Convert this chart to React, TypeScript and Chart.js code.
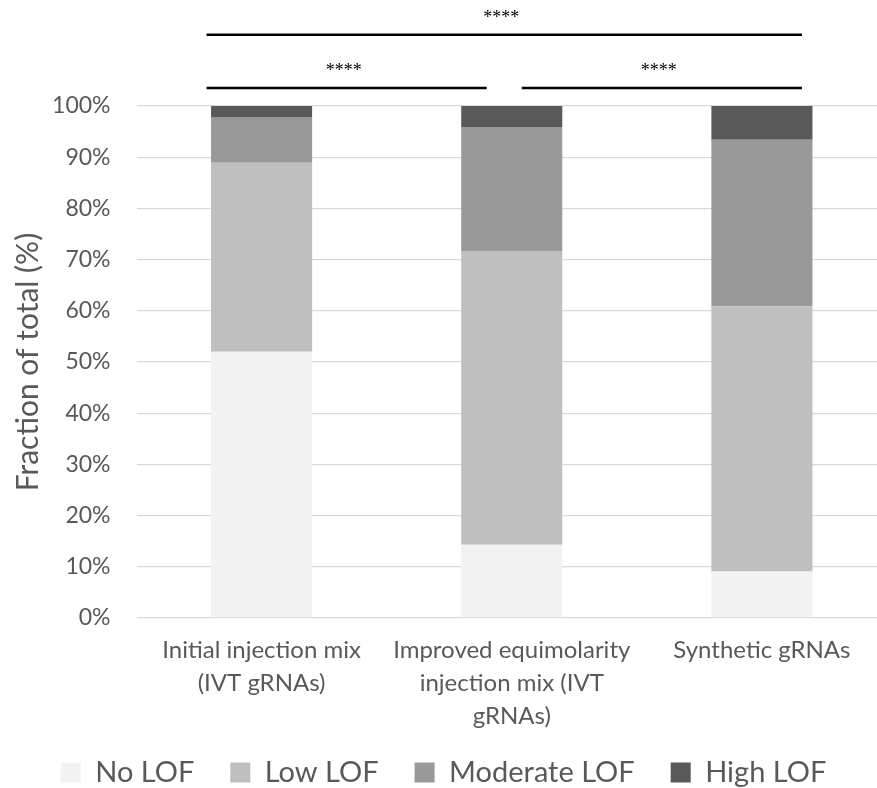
import React, { useEffect, useRef } from "react";
import { Chart, registerables } from "chart.js";

Chart.register(...registerables);

const categories: string[][] = [
  ["Initial injection mix", "(IVT gRNAs)"],
  ["Improved equimolarity", "injection mix (IVT", "gRNAs)"],
  ["Synthetic gRNAs"],
];
const seriesNames = ["No LOF", "Low LOF", "Moderate LOF", "High LOF"];
const noLOF = [52.0, 14.3, 9.1];
const lowLOF = [36.9, 57.4, 51.8];
const moderateLOF = [8.95, 24.2, 32.5];
const highLOF = [2.15, 4.1, 6.6];
const yTicks = [0, 10, 20, 30, 40, 50, 60, 70, 80, 90, 100];

// significance brackets (category index units, percent units)
const bracketFrom = [-0.22, -0.22, 1.04];
const bracketTo = [2.16, 0.9, 2.16];
const bracketLevel = [113.9, 103.5, 103.5];
const bracketLabel = ["****", "****", "****"];

const colors = ["#f2f2f2", "#bfbfbf", "#999999", "#595959"];
const FONT = "Lato, 'Open Sans', sans-serif";
const LEGEND_SHIFT = 21;

const bracketPlugin = {
  id: "brackets",
  afterLayout(chart: any) {
    // pull the legend row up into the free space below the axis labels
    const lg = chart.legend;
    if (lg) {
      lg.top -= LEGEND_SHIFT;
      lg.bottom -= LEGEND_SHIFT;
      if (lg.legendHitBoxes) lg.legendHitBoxes.forEach((h: any) => (h.top -= LEGEND_SHIFT));
    }
  },
  afterDraw(chart: any) {
    const { ctx, scales } = chart;
    const x = scales.x;
    const y = scales.y;
    const step = x.getPixelForValue(1) - x.getPixelForValue(0);
    const x0 = x.getPixelForValue(0);
    ctx.save();
    for (let i = 0; i < bracketFrom.length; i++) {
      const a = x0 + bracketFrom[i] * step;
      const b = x0 + bracketTo[i] * step;
      const py = y.getPixelForValue(bracketLevel[i]);
      ctx.strokeStyle = "#000000";
      ctx.lineWidth = 2.5;
      ctx.beginPath();
      ctx.moveTo(a, py);
      ctx.lineTo(b, py);
      ctx.stroke();
      ctx.fillStyle = "#000000";
      ctx.font = "18px 'Liberation Serif', serif";
      ctx.textAlign = "center";
      ctx.textBaseline = "middle";
      ctx.fillText(bracketLabel[i], (a + b) / 2 - 3, py - 17);
    }
    ctx.restore();
  },
};

export default function App() {
  const ref = useRef<HTMLCanvasElement | null>(null);
  useEffect(() => {
    if (!ref.current) return;
    const series = [noLOF, lowLOF, moderateLOF, highLOF];
    const chart = new Chart(ref.current, {
      type: "bar",
      data: {
        labels: categories,
        datasets: series.map((d, i) => ({
          label: seriesNames[i],
          data: d,
          backgroundColor: colors[i],
          borderWidth: 0,
          barPercentage: 1,
          categoryPercentage: 0.404,
        })),
      },
      options: {
        responsive: false,
        maintainAspectRatio: false,
        animation: false,
        devicePixelRatio: 1,
        layout: { padding: { top: 106, left: 0, right: 0, bottom: 0 } },
        plugins: {
          tooltip: { enabled: false },
          legend: {
            position: "bottom",
            labels: {
              boxWidth: 20,
              boxHeight: 20,
              padding: 36,
              color: "#595959",
              font: { family: FONT, size: 29 },
            },
          },
        },
        scales: {
          x: {
            stacked: true,
            grid: { display: false, drawTicks: false },
            border: { display: false },
            ticks: {
              color: "#595959",
              font: { family: FONT, size: 24, lineHeight: "33px" as any },
              padding: 16,
              maxRotation: 0,
              autoSkip: false,
            },
            afterFit(scale: any) {
              scale.height = 125;
            },
          },
          y: {
            stacked: true,
            min: 0,
            max: 100,
            afterBuildTicks(scale: any) {
              scale.ticks = yTicks.map((v) => ({ value: v }));
            },
            grid: { color: "#d9d9d9", lineWidth: 1.3, drawTicks: false },
            border: { display: false },
            ticks: {
              color: "#595959",
              font: { family: FONT, size: 23 },
              padding: 26,
              callback: (v: any) => v + "%",
            },
            title: {
              display: true,
              text: "Fraction of total (%)",
              color: "#595959",
              font: { family: FONT, size: 30 },
              padding: { top: 10, bottom: 0 },
            },
            afterFit(scale: any) {
              scale.width = 136.5;
            },
          },
        },
      },
      plugins: [bracketPlugin],
    });
    return () => chart.destroy();
  }, []);
  return (
    <div
      style={{
        position: "absolute",
        left: 0,
        top: 0,
        width: 877,
        height: 788,
        overflow: "hidden",
        background: "#ffffff",
      }}
    >
      <canvas ref={ref} width={887} height={818} style={{ display: "block" }} />
    </div>
  );
}
